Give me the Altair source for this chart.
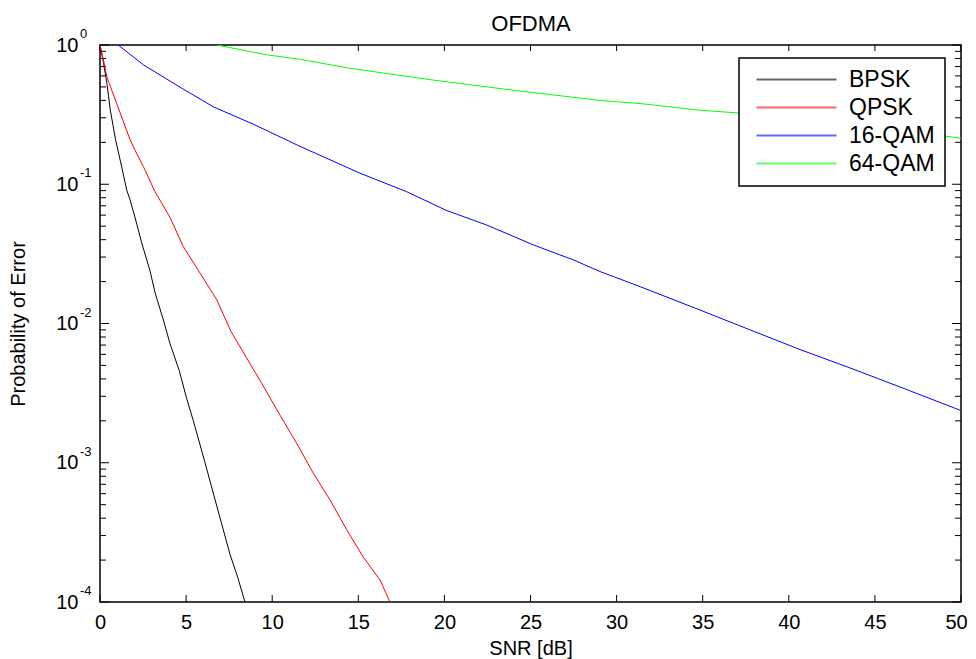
import altair as alt
import pandas as pd

FONT = "Liberation Sans"

series_names = ["BPSK", "QPSK", "16-QAM", "64-QAM"]
series_colors = ["#000000", "#ff0000", "#0000ff", "#00ff00"]

bpsk_snr = [0, 0.2, 0.4, 0.6, 0.9, 1.25, 1.55, 1.75, 2.03, 2.42, 2.9, 3.2, 3.68, 4.06, 4.6, 5.03, 5.42, 6.1, 6.78, 7.55, 8.0, 8.42]
bpsk_pe = [1.0, 0.75, 0.53, 0.34, 0.21, 0.135, 0.091, 0.077, 0.058, 0.038, 0.024, 0.0166, 0.0106, 0.0072, 0.0046, 0.0029, 0.0020, 0.0010, 0.00049, 0.00022, 0.00015, 0.0001]

qpsk_snr = [0, 0.2, 0.4, 0.97, 1.74, 2.03, 2.52, 3.19, 3.48, 4.06, 4.84, 5.81, 6.78, 7.6, 8.5, 9.4, 10.45, 11.42, 12.39, 13.36, 14.33, 15.29, 16.26, 16.84]
qpsk_pe = [1.0, 0.78, 0.59, 0.38, 0.21, 0.176, 0.134, 0.0885, 0.077, 0.058, 0.0356, 0.023, 0.0148, 0.0088, 0.0057, 0.0037, 0.0022, 0.00138, 0.00084, 0.00054, 0.00033, 0.00021, 0.000144, 0.0001]

qam16_snr = [1.06, 2.52, 4.74, 6.58, 8.9, 11.5, 15.1, 17.8, 20.1, 22.45, 25.16, 27.5, 29.04, 31.36, 34.84, 37.75, 40.65, 43.55, 46.46, 50]
qam16_pe = [1.0, 0.72, 0.49, 0.36, 0.27, 0.19, 0.12, 0.0885, 0.065, 0.051, 0.0367, 0.0286, 0.0236, 0.0184, 0.0125, 0.009, 0.0065, 0.0048, 0.0035, 0.00237]

qam64_snr = [6.78, 9.68, 11.6, 14.52, 19.35, 24.2, 29.04, 31.36, 34.84, 39.4, 45.0, 50]
qam64_pe = [1.0, 0.85, 0.79, 0.68, 0.56, 0.47, 0.40, 0.38, 0.34, 0.31, 0.26, 0.214]

x_ticks = [0, 5, 10, 15, 20, 25, 30, 35, 40, 45, 50]
y_major = [1e-4, 1e-3, 1e-2, 1e-1, 1.0]
y_exponents = ["-4", "-3", "-2", "-1", "0"]
y_minor = [m * 10.0 ** k for k in range(-4, 0) for m in range(2, 10)]

rows = []
for name, xs, ys in zip(series_names,
                        [bpsk_snr, qpsk_snr, qam16_snr, qam64_snr],
                        [bpsk_pe, qpsk_pe, qam16_pe, qam64_pe]):
    for i, (xv, yv) in enumerate(zip(xs, ys)):
        rows.append({"series": name, "snr": xv, "pe": yv, "order": i})
df = pd.DataFrame(rows)
exp_df = pd.DataFrame({"pe": y_major, "exp": y_exponents})
xt_df = pd.DataFrame({"v": x_ticks})
ymaj_df = pd.DataFrame({"v": y_major})
ymin_df = pd.DataFrame({"v": y_minor})

xscale = alt.Scale(domain=[0, 50], nice=False, zero=False)
yscale = alt.Scale(type="log", domain=[1e-4, 1], nice=False)

# tick marks drawn inward, MATLAB style
tick_top = alt.Chart(xt_df).mark_rule(stroke="black", strokeWidth=1).encode(
    x=alt.X("v:Q", scale=xscale,
            axis=alt.Axis(orient="top", ticks=False, labels=False, domain=False, grid=False,
                          title="OFDMA", titleFont=FONT, titleFontSize=22,
                          titleFontWeight="normal", titleColor="black", titlePadding=10)),
    y=alt.value(0),
    y2=alt.value(6),
)
tick_bottom = alt.Chart(xt_df).mark_rule(stroke="black", strokeWidth=1).encode(
    x=alt.X("v:Q", scale=xscale, axis=None),
    y=alt.value({"expr": "height"}),
    y2=alt.value({"expr": "height - 7"}),
)
ymaj_left = alt.Chart(ymaj_df).mark_rule(stroke="black", strokeWidth=1).encode(
    y=alt.Y("v:Q", scale=yscale, axis=None),
    x=alt.value(0),
    x2=alt.value(9),
)
ymaj_right = alt.Chart(ymaj_df).mark_rule(stroke="black", strokeWidth=1).encode(
    y=alt.Y("v:Q", scale=yscale, axis=None),
    x=alt.value({"expr": "width"}),
    x2=alt.value({"expr": "width - 9"}),
)
ymin_left = alt.Chart(ymin_df).mark_rule(stroke="black", strokeWidth=1).encode(
    y=alt.Y("v:Q", scale=yscale, axis=None),
    x=alt.value(0),
    x2=alt.value(6),
)
ymin_right = alt.Chart(ymin_df).mark_rule(stroke="black", strokeWidth=1).encode(
    y=alt.Y("v:Q", scale=yscale, axis=None),
    x=alt.value({"expr": "width"}),
    x2=alt.value({"expr": "width - 6"}),
)

exps = alt.Chart(exp_df).mark_text(align="left", baseline="alphabetic", dy=-7,
                                   fontSize=13, font=FONT, color="black").encode(
    x=alt.value(-20),
    y=alt.Y("pe:Q", scale=yscale, axis=None),
    text="exp:N",
)

lines = alt.Chart(df).mark_line(strokeWidth=1, clip=True).encode(
    x=alt.X("snr:Q", scale=xscale,
            axis=alt.Axis(orient="bottom", values=x_ticks, ticks=False, domain=False, grid=False,
                          labelFlush=False, labelPadding=10, labelFontSize=20, labelFont=FONT,
                          labelColor="black",
                          labelOffset=alt.condition("datum.value == 50", alt.value(-5), alt.value(0)),
                          title="SNR [dB]", titleFont=FONT, titleFontSize=20,
                          titleFontWeight="normal", titleColor="black", titlePadding=6)),
    y=alt.Y("pe:Q", scale=yscale,
            axis=alt.Axis(orient="left", values=y_major, ticks=False, domain=False, grid=False,
                          labelFlush=False, labelExpr="'10'", labelPadding=22, labelFontSize=20,
                          labelFont=FONT, labelColor="black", labelBaseline="middle",
                          labelAlign="right",
                          title="Probability of Error", titleFont=FONT, titleFontSize=20,
                          titleFontWeight="normal", titleColor="black", titlePadding=27)),
    color=alt.Color("series:N", scale=alt.Scale(domain=series_names, range=series_colors),
                    legend=alt.Legend(orient="none", legendX=639, legendY=13, title=None,
                                      symbolType="M-4,0H4", symbolSize=400,
                                      symbolStrokeWidth=2, symbolOpacity=0.6,
                                      labelFontSize=23, labelFont=FONT, labelColor="black",
                                      fillColor="white", strokeColor="black", padding=10,
                                      symbolOffset=36, labelOffset=41, rowPadding=4)),
    order=alt.Order("order:Q"),
)

chart = alt.layer(
    tick_top, tick_bottom, ymaj_left, ymaj_right, ymin_left, ymin_right, exps, lines
).resolve_axis(
    x="independent", y="independent"
).properties(
    width=861, height=557,
    padding={"left": 92, "top": 37, "right": 7, "bottom": 57},
    autosize=alt.AutoSizeParams(type="none"),
).configure_view(stroke="black", strokeWidth=1.5).configure_legend(strokeWidth=1.5)

chart.save("out.html", embed_options={"renderer": "svg", "actions": False})
